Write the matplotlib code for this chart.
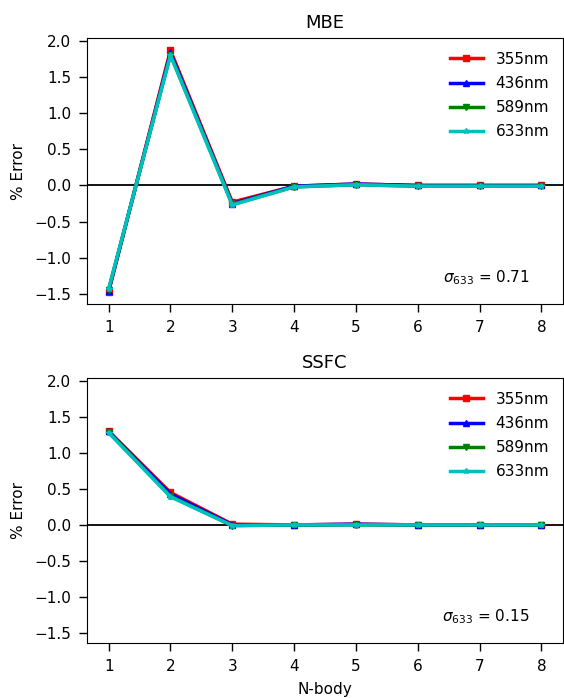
import matplotlib
matplotlib.use("Agg")
import matplotlib.pyplot as plt

nbody = [1, 2, 3, 4, 5, 6, 7, 8]
labels = ["355nm", "436nm", "589nm", "633nm"]
colors = ["r", "b", "g", "c"]
markers = ["s", "^", "v", "*"]

# MBE errors (%)
mbe_355 = [-1.47, 1.87, -0.23, -0.01, 0.02, 0.00, 0.00, 0.00]
mbe_436 = [-1.46, 1.84, -0.25, -0.01, 0.02, 0.00, 0.00, 0.00]
mbe_589 = [-1.44, 1.81, -0.26, -0.02, 0.01, -0.01, -0.01, -0.01]
mbe_633 = [-1.43, 1.80, -0.27, -0.02, 0.01, -0.01, -0.01, -0.01]

# SSFC errors (%)
ssfc_355 = [1.30, 0.45, 0.01, 0.00, 0.01, 0.00, 0.00, 0.00]
ssfc_436 = [1.30, 0.43, 0.00, 0.00, 0.01, 0.00, 0.00, 0.00]
ssfc_589 = [1.29, 0.40, -0.01, 0.00, 0.00, 0.00, 0.00, 0.00]
ssfc_633 = [1.28, 0.39, -0.01, 0.00, 0.00, 0.00, 0.00, 0.00]

panels = [("MBE", [mbe_355, mbe_436, mbe_589, mbe_633], "0.71"),
          ("SSFC", [ssfc_355, ssfc_436, ssfc_589, ssfc_633], "0.15")]

fig = plt.figure(figsize=(5.64, 6.98), dpi=100)
ax1 = fig.add_axes([87/564, 1 - 304/698, 476/564, 266/698])
ax2 = fig.add_axes([87/564, 1 - 643/698, 476/564, 265/698], sharey=ax1)

for ax, (title, series, sig) in zip([ax1, ax2], panels):
    ax.axhline(0, color="k", lw=1.3)
    for vals, lab, c, m in zip(series, labels, colors, markers):
        ax.plot(nbody, vals, color=c, marker=m, ms=4, lw=2.5, label=lab)
    ax.set_title(title, fontsize=13, pad=7)
    ax.set_ylabel("% Error", fontsize=11, labelpad=6)
    ax.set_xticks(nbody)
    ax.tick_params(labelsize=11, length=5.5, width=1, pad=6)
    ax.legend(frameon=False, fontsize=11, loc="upper right", handlelength=2.2,
              labelspacing=0.6)
    ax.text(0.93, 0.1, r"$\sigma_{633}$ = " + sig, transform=ax.transAxes,
            ha="right", va="center", fontsize=11)

ax1.set_ylim(-1.64, 2.04)
ax2.set_xlabel("N-body", fontsize=11, labelpad=6)

fig.savefig("out.png", dpi=100)
